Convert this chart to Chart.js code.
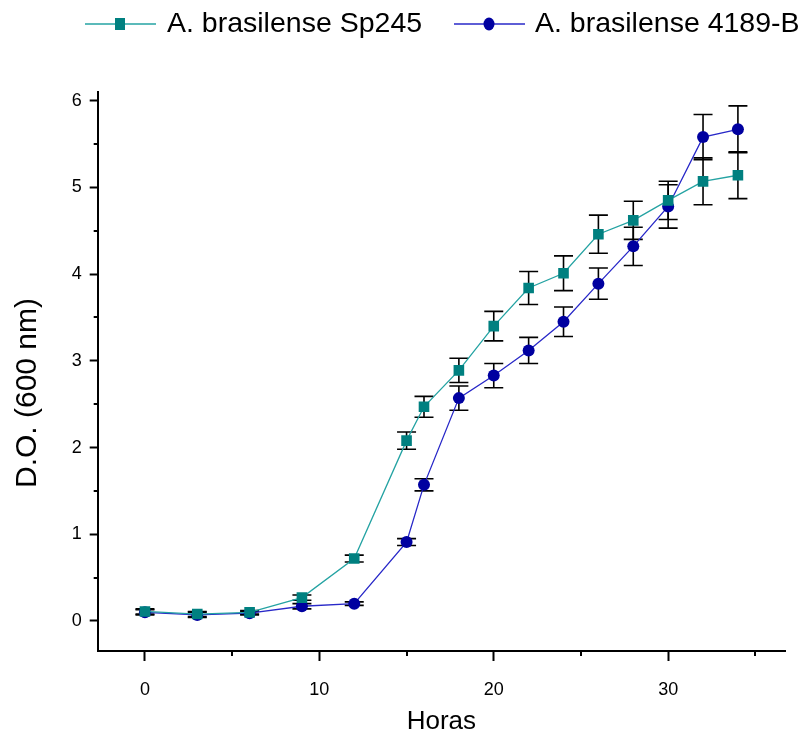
<!DOCTYPE html>
<html>
<head>
<meta charset="utf-8">
<script src="https://cdn.jsdelivr.net/npm/chart.js@4"></script>
<style>
  html, body { margin: 0; padding: 0; background: #fff; }
  #wrap { width: 803px; height: 741px; }
</style>
</head>
<body>
<div id="wrap"><canvas id="grafico"></canvas></div>
<script>
// datos
const horas = [0, 3, 6, 9, 12, 15, 16, 18, 20, 22, 24, 26, 28, 30, 32, 34];
const sp245 = [0.11, 0.08, 0.10, 0.27, 0.72, 2.08, 2.47, 2.89, 3.40, 3.84, 4.01, 4.46, 4.62, 4.85, 5.07, 5.14];
const sp245Err = [0.03, 0.03, 0.02, 0.03, 0.04, 0.10, 0.12, 0.14, 0.17, 0.19, 0.20, 0.22, 0.22, 0.22, 0.27, 0.27];
const cepa4189 = [0.10, 0.07, 0.09, 0.17, 0.20, 0.91, 1.57, 2.57, 2.83, 3.12, 3.45, 3.89, 4.32, 4.78, 5.58, 5.67];
const cepa4189Err = [0.03, 0.03, 0.02, 0.03, 0.02, 0.04, 0.07, 0.14, 0.14, 0.15, 0.17, 0.18, 0.22, 0.25, 0.26, 0.27];
const etiquetas = ['A. brasilense Sp245', 'A. brasilense 4189-B'];
const tituloY = 'D.O. (600 nm)';
const tituloX = 'Horas';

const fuente = '"Liberation Sans", Arial, sans-serif';

function puntos(valores) {
    return horas.map((h, i) => ({ x: h, y: valores[i] }));
}

// barras de error (negras, con tope)
const barrasError = {
    id: 'barrasError',
    beforeDatasetsDraw(chart) {
        const { ctx, scales: { x, y } } = chart;
        const errores = [sp245Err, cepa4189Err];
        ctx.save();
        ctx.strokeStyle = '#000';
        ctx.lineWidth = 1.6;
        chart.data.datasets.forEach((ds, d) => {
            ds.data.forEach((p, i) => {
                const px = x.getPixelForValue(p.x);
                const yTop = y.getPixelForValue(p.y + errores[d][i]);
                const yBot = y.getPixelForValue(p.y - errores[d][i]);
                ctx.beginPath();
                ctx.moveTo(px, yTop); ctx.lineTo(px, yBot);
                ctx.moveTo(px - 9.5, yTop); ctx.lineTo(px + 9.5, yTop);
                ctx.moveTo(px - 9.5, yBot); ctx.lineTo(px + 9.5, yBot);
                ctx.stroke();
            });
        });
        ctx.restore();
    }
};

// marcas menores de los ejes y título del eje Y
const marcasMenores = {
    id: 'marcasMenores',
    afterDraw(chart) {
        const { ctx, scales: { x, y } } = chart;
        ctx.save();
        ctx.strokeStyle = '#000';
        ctx.lineWidth = 2;
        ctx.beginPath();
        x.ticks.forEach(t => {
            if (t.value % 10 !== 0) {
                const px = Math.round(x.getPixelForValue(t.value));
                ctx.moveTo(px, x.top); ctx.lineTo(px, x.top + 5);
            }
        });
        y.ticks.forEach(t => {
            if (t.value % 1 !== 0) {
                const py = Math.round(y.getPixelForValue(t.value));
                ctx.moveTo(y.right, py); ctx.lineTo(y.right - 4, py);
            }
        });
        ctx.stroke();

        ctx.translate(28, 393);
        ctx.rotate(-Math.PI / 2);
        ctx.fillStyle = '#000';
        ctx.font = '30px ' + fuente;
        ctx.textAlign = 'center';
        ctx.textBaseline = 'middle';
        ctx.fillText(tituloY, 0, 0);
        ctx.restore();
    }
};

// leyenda arriba (línea + símbolo + texto)
const leyenda = {
    id: 'leyenda',
    afterDraw(chart) {
        const ctx = chart.ctx;
        const yc = 24;
        const items = [
            { x0: 85, x1: 156, xm: 120, xt: 167 },
            { x0: 454, x1: 525, xm: 489, xt: 535 }
        ];
        ctx.save();
        chart.data.datasets.forEach((ds, i) => {
            const it = items[i];
            ctx.strokeStyle = ds.borderColor;
            ctx.lineWidth = 1.5;
            ctx.beginPath();
            ctx.moveTo(it.x0, yc); ctx.lineTo(it.x1, yc);
            ctx.stroke();
            ctx.fillStyle = ds.pointBackgroundColor;
            ctx.beginPath();
            if (ds.pointStyle === 'rect') {
                ctx.rect(it.xm - 5, yc - 6, 10, 12);
            } else {
                ctx.ellipse(it.xm, yc, 5.5, 6.5, 0, 0, Math.PI * 2);
            }
            ctx.fill();
            ctx.fillStyle = '#000';
            ctx.font = '28.5px ' + fuente;
            ctx.textBaseline = 'middle';
            ctx.fillText(ds.label, it.xt, yc);
        });
        ctx.restore();
    }
};

new Chart(document.getElementById('grafico'), {
    type: 'line',
    data: {
        datasets: [
            {
                label: etiquetas[0],
                data: puntos(sp245),
                borderColor: '#25a3a3',
                borderWidth: 1.3,
                pointStyle: 'rect',
                pointRadius: 7.5,
                pointBackgroundColor: '#008080',
                pointBorderColor: '#008080',
                pointBorderWidth: 0
            },
            {
                label: etiquetas[1],
                data: puntos(cepa4189),
                borderColor: '#2828c8',
                borderWidth: 1.3,
                pointStyle: 'circle',
                pointRadius: 6,
                pointBackgroundColor: '#0000a0',
                pointBorderColor: '#0000a0',
                pointBorderWidth: 0
            }
        ]
    },
    options: {
        responsive: true,
        maintainAspectRatio: false,
        animation: false,
        layout: { padding: { top: 92, right: 18, left: 0, bottom: 0 } },
        plugins: { legend: { display: false }, tooltip: { enabled: false } },
        scales: {
            x: {
                type: 'linear',
                min: -2.71,
                max: 36.7,
                afterFit(scale) { scale.height = 90; },
                border: { display: true, color: '#000', width: 2 },
                grid: {
                    drawOnChartArea: false,
                    drawTicks: true,
                    tickLength: 10,
                    tickWidth: 2,
                    tickColor: c => (c.tick && c.tick.value % 10 === 0) ? '#000' : 'rgba(0,0,0,0)'
                },
                ticks: {
                    stepSize: 5,
                    includeBounds: false,
                    autoSkip: false,
                    maxRotation: 0,
                    padding: 18,
                    color: '#000',
                    font: { family: fuente, size: 18 },
                    callback: v => (v % 10 === 0 ? v : '')
                },
                title: {
                    display: true,
                    text: tituloX,
                    color: '#000',
                    font: { family: fuente, size: 26 },
                    padding: { top: 0, bottom: 4 }
                }
            },
            y: {
                type: 'linear',
                min: -0.346,
                max: 6.1,
                afterFit(scale) { scale.width = 97.7; },
                border: { display: true, color: '#000', width: 2 },
                grid: {
                    drawOnChartArea: false,
                    drawTicks: true,
                    tickLength: 8,
                    tickWidth: 2,
                    tickColor: c => (c.tick && c.tick.value % 1 === 0) ? '#000' : 'rgba(0,0,0,0)'
                },
                ticks: {
                    stepSize: 0.5,
                    includeBounds: false,
                    autoSkip: false,
                    padding: 8,
                    color: '#000',
                    font: { family: fuente, size: 18 },
                    callback: v => (v % 1 === 0 ? v : '')
                }
            }
        }
    },
    plugins: [barrasError, marcasMenores, leyenda]
});
</script>
</body>
</html>
